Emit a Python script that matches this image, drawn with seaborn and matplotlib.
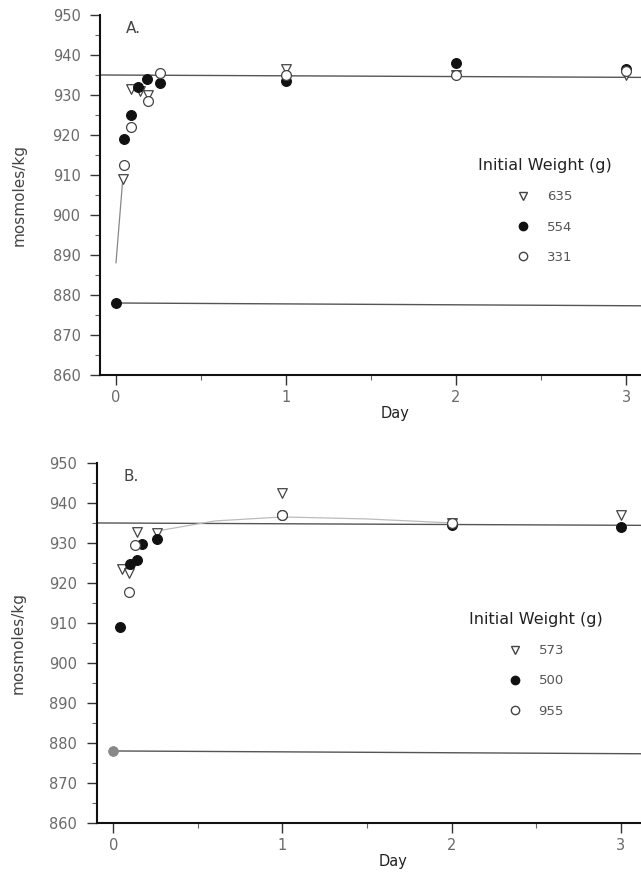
import pandas as pd
import seaborn as sns
import matplotlib.pyplot as plt
from matplotlib.lines import Line2D
from matplotlib.ticker import MultipleLocator

# ---- Panel A data (day, mosmoles/kg) ----
a_labels = ["635", "554", "331"]
a_days = [
    [0.04, 0.09, 0.14, 0.19, 1.0, 2.0, 3.0],
    [0.0, 0.05, 0.09, 0.13, 0.18, 0.26, 1.0, 2.0, 3.0],
    [0.05, 0.09, 0.19, 0.26, 1.0, 2.0, 3.0],
]
a_osm = [
    [909.0, 931.5, 931.0, 930.0, 936.5, 935.0, 935.0],
    [878.0, 919.0, 925.0, 932.0, 934.0, 933.0, 933.5, 938.0, 936.5],
    [912.5, 922.0, 928.5, 935.5, 935.0, 935.0, 936.0],
]
a_rise_days = [0.0, 0.04]
a_rise_osm = [888.0, 909.0]

# ---- Panel B data ----
b_labels = ["573", "500", "955"]
b_days = [
    [0.05, 0.09, 0.14, 0.26, 1.0, 2.0, 3.0],
    [0.04, 0.10, 0.14, 0.17, 0.26, 1.0, 2.0, 3.0],
    [0.09, 0.13, 1.0, 2.0],
]
b_osm = [
    [923.4, 922.4, 932.8, 932.4, 942.5, 935.0, 937.0],
    [909.0, 924.7, 925.7, 929.7, 931.1, 937.0, 934.5, 934.0],
    [917.8, 929.4, 937.0, 935.0],
]
b_start_day = [0.0]
b_start_osm = [878.0]
b_fit_days = [0.26, 0.6, 1.0, 1.5, 2.0]
b_fit_osm = [933.0, 935.5, 936.5, 936.0, 935.0]

# reference levels (drawn slightly tilted as in the scan)
ref_hi = [935.0, 934.4]
ref_lo = [878.0, 877.3]
ticks_x = [0, 1, 2, 3]

styles = [
    dict(marker="v", color="white", edgecolor="#444444", linewidth=0.9, s=48),
    dict(marker="o", color="#111111", edgecolor="#111111", linewidth=0.8, s=50),
    dict(marker="o", color="white", edgecolor="#444444", linewidth=0.9, s=50),
]

sns.set_theme(style="white")
plt.rcParams["font.family"] = ["DejaVu Sans"]

fig = plt.figure(figsize=(6.41, 8.92), dpi=100)
axA = fig.add_axes([0.156, 0.5796, 0.844, 0.4036])
axB = fig.add_axes([0.151, 0.0774, 0.849, 0.4036])


def style_axis(ax, xlim):
    ax.set_xlim(*xlim)
    ax.set_ylim(860, 950)
    ax.set_xticks(ticks_x)
    ax.xaxis.set_minor_locator(MultipleLocator(0.5))
    ax.yaxis.set_major_locator(MultipleLocator(10))
    ax.yaxis.set_minor_locator(MultipleLocator(5))
    for s in ["top", "right"]:
        ax.spines[s].set_visible(False)
    for s in ["left", "bottom"]:
        ax.spines[s].set_color("#111111")
        ax.spines[s].set_linewidth(1.5)
    ax.tick_params(axis="both", which="major", direction="out", length=7,
                   width=1.0, color="#333333", labelcolor="#6a6a6a",
                   labelsize=10.5, left=True, bottom=True, pad=4)
    ax.tick_params(axis="y", which="major", pad=7)
    ax.tick_params(axis="both", which="minor", direction="out", length=3.5,
                   width=0.8, color="#666666", left=True, bottom=True)


def draw_panel(ax, days, osm, labels, xlim, letter, leg_anchor):
    style_axis(ax, xlim)
    ax.plot([xlim[0], xlim[1]], ref_hi, color="#555555", lw=1.0, zorder=1)
    ax.plot([0.0, xlim[1]], ref_lo, color="#555555", lw=1.0, zorder=1)
    for d, v, st in zip(days, osm, styles):
        df = pd.DataFrame({"day": d, "osm": v})
        sns.scatterplot(data=df, x="day", y="osm", ax=ax, zorder=3, **st)
    ax.set_xlabel("Day", fontsize=10.5, color="#222222")
    ax.set_ylabel("mosmoles/kg", fontsize=11, color="#444444")
    ax.yaxis.set_label_coords(-0.135, 0.5)
    ax.text(0.06, 946.5, letter, fontsize=11, color="#444444", ha="left", va="center")
    handles = [
        Line2D([], [], linestyle="none", marker="v", markersize=5.5,
               markerfacecolor="white", markeredgecolor="#444444"),
        Line2D([], [], linestyle="none", marker="o", markersize=6,
               markerfacecolor="#111111", markeredgecolor="#111111"),
        Line2D([], [], linestyle="none", marker="o", markersize=6,
               markerfacecolor="white", markeredgecolor="#444444"),
    ]
    leg = ax.legend(handles, labels, title="Initial Weight (g)", frameon=False,
                    loc="upper center", bbox_to_anchor=leg_anchor,
                    bbox_transform=ax.transData, labelspacing=1.3,
                    handletextpad=1.3, fontsize=9.5, title_fontsize=11.5,
                    handlelength=1.0, borderpad=0.2)
    for t in leg.get_texts():
        t.set_color("#555555")
    leg.get_title().set_color("#222222")
    ax.xaxis.set_label_coords(0.545, -0.085)


draw_panel(axA, a_days, a_osm, a_labels, (-0.094, 3.088), "A.", (2.52, 916.5))
axA.plot(a_rise_days, a_rise_osm, color="#888888", lw=0.9, zorder=2)

draw_panel(axB, b_days, b_osm, b_labels, (-0.098, 3.12), "B.", (2.5, 915.0))
axB.plot(b_fit_days, b_fit_osm, color="#bbbbbb", lw=0.9, zorder=2)
sns.scatterplot(x=b_start_day, y=b_start_osm, ax=axB, marker="o", color="#888888",
                edgecolor="#888888", s=50, zorder=3)
axB.set_xlabel("Day", fontsize=10.5, color="#222222")
axB.set_ylabel("mosmoles/kg", fontsize=11, color="#444444")
axB.xaxis.set_label_coords(0.545, -0.085)
axB.yaxis.set_label_coords(-0.13, 0.5)

fig.savefig("out.png", dpi=100)
